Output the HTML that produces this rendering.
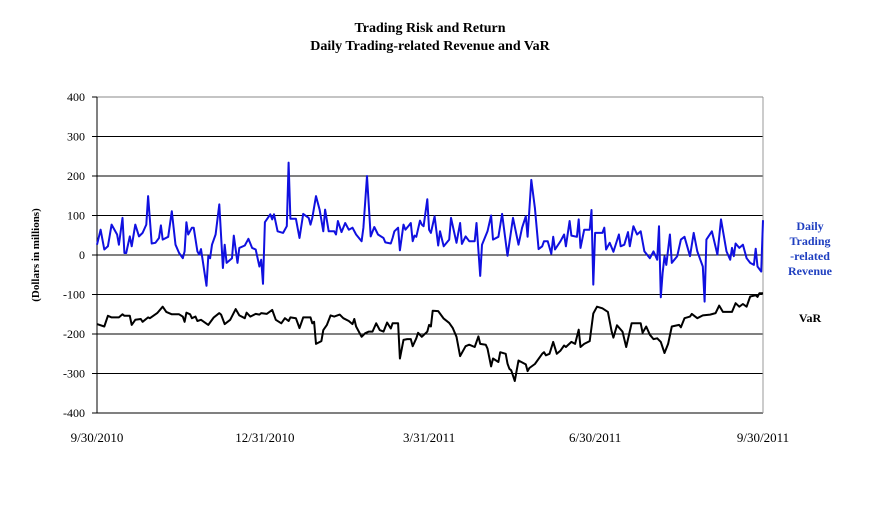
<!DOCTYPE html>
<html><head><meta charset="utf-8"><style>
body{margin:0;background:#fff;}
svg{display:block;font-family:"Liberation Serif",serif;}
</style></head><body>
<svg id="chart" width="886" height="511">
<text x="430" y="32" text-anchor="middle" font-size="14" font-weight="bold">Trading Risk and Return</text>
<text x="430" y="50" text-anchor="middle" font-size="14" font-weight="bold">Daily Trading-related Revenue and VaR</text>
<text transform="translate(39,255) rotate(-90)" text-anchor="middle" font-size="11" font-weight="bold">(Dollars in millions)</text>
<g id="grid"></g>
<g id="series"></g>
<g font-size="12" font-weight="bold">
<text x="810" y="230" text-anchor="middle" fill="#1f3fc0"><tspan x="810">Daily</tspan><tspan x="810" dy="15">Trading</tspan><tspan x="810" dy="15">-related</tspan><tspan x="810" dy="15">Revenue</tspan></text>
<text x="810" y="322" text-anchor="middle" fill="#000">VaR</text>
</g>
</svg>
<script>
const yTicks=[400,300,200,100,0,-100,-200,-300,-400];
const xTickLabels=["9/30/2010","12/31/2010","3/31/2011","6/30/2011","9/30/2011"];
const xTickDays=[0,92,182,273,365];
const revDays=[0,2,4,6,8,11,12,14,15,16,18,19,21,23,25,27,28,30,32,34,35,36,39,41,43,45,47,48,49,50,52,53,55,56,57,60,61,62,63,65,67,69,70,71,74,75,77,78,81,83,85,87,89,90,91,92,95,96,97,99,102,104,105,106,109,111,113,116,117,118,120,122,124,125,127,130,131,132,134,136,138,140,142,145,146,148,150,152,154,157,158,161,162,163,165,166,168,169,171,172,173,174,175,177,178,179,181,182,183,185,187,188,190,193,194,197,199,200,202,204,207,208,210,211,214,216,217,220,222,225,228,231,233,235,236,238,240,242,244,245,247,249,250,251,254,256,257,259,260,263,264,265,267,270,271,272,273,277,278,279,281,283,286,287,289,291,292,294,296,298,300,303,305,307,308,309,310,311,312,314,315,318,320,322,325,327,329,332,333,334,337,340,342,345,347,348,349,350,352,354,356,358,360,361,362,364,365];
const revValues=[26,64,14,22,77,52,26,94,5,5,47,22,77,47,56,77,149,29,31,43,75,39,46,111,26,5,-8,9,83,52,69,69,9,1,15,-78,-3,-8,26,52,128,-33,26,-20,-8,49,-20,18,24,41,18,14,-29,-12,-73,83,103,90,103,60,56,73,234,92,92,43,104,94,77,94,149,115,60,115,60,60,52,86,58,81,64,69,52,35,69,200,47,71,52,43,32,29,43,60,69,12,77,64,75,81,35,49,46,87,77,73,141,64,56,98,24,60,22,39,94,31,81,28,47,35,35,81,-53,26,60,100,39,46,104,-2,94,26,69,98,46,190,119,15,22,35,35,3,46,14,35,52,22,86,49,46,90,18,64,64,114,-75,56,56,69,14,31,8,52,22,26,58,22,73,52,60,9,-8,9,-12,73,-107,-46,-3,-25,52,-20,-3,39,46,-3,56,9,-29,-118,39,60,1,90,9,-12,18,-3,29,18,26,-8,-20,-25,16,-29,-42,88];
const varDays=[0,4,6,8,12,14,15,18,19,21,24,25,28,29,33,36,38,41,45,47,48,49,51,52,54,55,57,61,64,67,68,70,73,76,78,81,82,84,87,89,90,93,96,98,101,103,105,106,109,111,113,117,118,119,120,123,124,126,128,130,133,135,138,140,141,142,145,147,149,151,153,155,157,159,161,162,165,166,168,170,172,173,175,176,178,181,182,183,184,187,190,193,195,197,199,202,204,207,209,210,213,214,216,217,220,221,224,225,226,227,229,230,231,235,236,237,240,244,245,246,248,250,252,254,256,257,260,262,264,265,267,270,272,274,277,280,282,283,285,288,290,293,298,299,301,303,305,307,309,311,313,315,319,320,322,325,326,329,332,336,339,341,343,348,350,352,354,356,358,361,362,363,365];
const varValues=[-175,-181,-154,-158,-158,-150,-154,-154,-177,-164,-162,-169,-158,-160,-147,-131,-144,-150,-150,-156,-169,-146,-150,-160,-156,-167,-164,-177,-158,-147,-151,-175,-164,-137,-153,-160,-146,-156,-149,-151,-147,-149,-139,-164,-173,-160,-167,-158,-160,-185,-158,-158,-173,-169,-225,-218,-190,-177,-153,-156,-151,-160,-167,-175,-162,-181,-207,-198,-194,-194,-173,-190,-194,-171,-186,-173,-173,-262,-215,-213,-213,-231,-211,-197,-207,-194,-177,-181,-141,-142,-161,-172,-185,-207,-256,-231,-227,-233,-206,-225,-227,-237,-282,-262,-271,-246,-250,-275,-288,-292,-319,-292,-267,-277,-294,-286,-276,-250,-246,-254,-250,-220,-250,-242,-229,-233,-220,-225,-189,-233,-225,-218,-148,-131,-135,-144,-193,-209,-178,-194,-233,-173,-173,-197,-181,-202,-213,-211,-220,-248,-225,-181,-177,-183,-160,-156,-149,-160,-153,-151,-147,-128,-144,-144,-122,-131,-124,-131,-105,-102,-106,-97,-97];
const L=97,R=763,T=97,B=413,NS="http://www.w3.org/2000/svg";
const xS=d=>L+(d/365)*(R-L);
const yS=v=>T+(400-v)/800*(B-T);
const grid=document.getElementById('grid'),ser=document.getElementById('series');
function mk(tag,attrs,parent){const e=document.createElementNS(NS,tag);for(const k in attrs)e.setAttribute(k,attrs[k]);parent.appendChild(e);return e;}
yTicks.forEach(v=>{
  const y=yS(v);
  const g=mk('line',{x1:L,x2:R,y1:y,y2:y,stroke:v===400?'#888':'#000','stroke-width':1},grid);
  
  
  const tk=mk('line',{x1:L-5,x2:L,y1:y,y2:y,stroke:'#000'},grid);
  
  
  const t=mk('text',{x:L-12,y:y+4,'text-anchor':'end','font-size':12},grid);
  t.textContent=v;
  
  
});
const ax=mk('line',{x1:L,x2:L,y1:T,y2:B,stroke:'#000'},grid);


const rb=mk('line',{x1:R,x2:R,y1:T,y2:B,stroke:'#999'},grid);


xTickLabels.forEach((lab,i)=>{
  const x=xS(xTickDays[i]);
  const t=mk('text',{x:x,y:442,'text-anchor':'middle','font-size':13},grid);
  t.textContent=lab;
  
  
});
function line(days,vals,color,name){
  const pts=days.map((d,i)=>xS(d).toFixed(1)+','+yS(vals[i]).toFixed(1)).join(' ');
  const p=mk('polyline',{points:pts,fill:'none',stroke:color,'stroke-width':2,'stroke-linejoin':'round'},ser);
  
  
}
line(revDays,revValues,'#1010e0','revenue-line');
line(varDays,varValues,'#000','var-line');
</script>
</body></html>
